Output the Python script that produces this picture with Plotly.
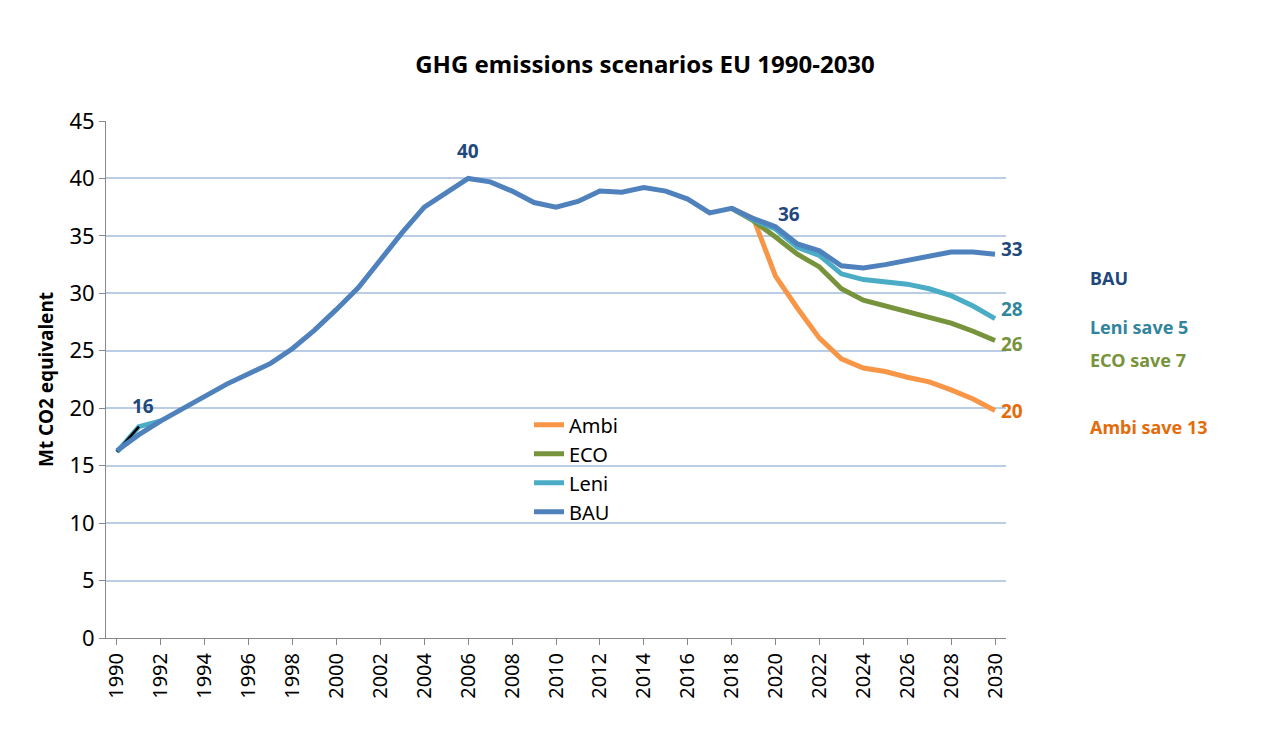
import plotly.graph_objects as go

years = list(range(1990, 2031))
bau = [16.3, 17.7, 18.9, 20.0, 21.1, 22.1, 23.0, 23.9, 25.2, 26.8, 28.6, 30.5, 32.9, 35.3, 37.5,
       38.8, 40.0, 39.7, 38.9, 37.9, 37.5, 38.0, 38.9, 38.8, 39.2, 38.9, 38.2, 37.0, 37.4, 36.5,
       35.8, 34.3, 33.7, 32.4, 32.2, 32.5, 32.9, 33.3, 33.6, 33.6, 33.4]
scen_years = list(range(2018, 2031))
ambi = [37.4, 36.5, 31.5, 28.7, 26.1, 24.3, 23.5, 23.2, 22.7, 22.3, 21.6, 20.8, 19.8]
eco = [37.4, 36.3, 34.9, 33.4, 32.3, 30.4, 29.4, 28.9, 28.5, 28.0, 27.4, 26.7, 25.9]
leni = [37.4, 36.4, 35.6, 34.0, 33.3, 31.7, 31.2, 31.0, 30.8, 30.4, 29.8, 28.9, 27.8]
leni_start_years = [1990, 1991, 1992]
leni_start = [16.2, 18.4, 18.9]

BAU_C, LENI_C, ECO_C, AMBI_C = "#4F81BD", "#4BACC6", "#77933C", "#F79646"

fig = go.Figure()
fig.add_trace(go.Scatter(x=scen_years, y=ambi, mode="lines", name="Ambi", line=dict(color=AMBI_C, width=5)))
fig.add_trace(go.Scatter(x=scen_years, y=eco, mode="lines", name="ECO", line=dict(color=ECO_C, width=5)))
fig.add_trace(go.Scatter(x=scen_years, y=leni, mode="lines", name="Leni", line=dict(color=LENI_C, width=5)))
fig.add_trace(go.Scatter(x=leni_start_years, y=leni_start, mode="lines", showlegend=False, line=dict(color=LENI_C, width=5)))
fig.add_trace(go.Scatter(x=[1990, 1991], y=[16.2, 18.4], mode="lines", showlegend=False, line=dict(color="black", width=2.5)))
fig.add_trace(go.Scatter(x=years, y=bau, mode="lines", name="BAU", line=dict(color=BAU_C, width=5)))

lab = dict(family="Noto Sans", size=19)
ann = [
    (1991.2, 20.2, "16", "#1F497D"), (2006, 42.4, "40", "#1F497D"), (2020.6, 36.9, "36", "#1F497D"),
]
for x, y, t, c in ann:
    fig.add_annotation(x=x, y=y, text="<b>%s</b>" % t, showarrow=False, font=dict(lab, color=c))
for y, t, c in [(33.9, "33", "#1F497D"), (28.6, "28", "#31859C"), (25.6, "26", ECO_C), (19.8, "20", "#E46C0A")]:
    fig.add_annotation(x=2030, y=y, text="<b>%s</b>" % t, showarrow=False, xanchor="left", xshift=4,
                       font=dict(lab, color=c))
for y, t, c in [(259, "BAU", "#1F497D"), (320, "Leni save 5", "#31859C"),
                (353, "ECO save 7", ECO_C), (418, "Ambi save 13", "#E46C0A")]:
    fig.add_annotation(xref="paper", yref="paper", x=(1088 - 105) / 901, y=(623 - y) / 503, text="<b>%s</b>" % t,
                       showarrow=False, xanchor="left", font=dict(family="Noto Sans", size=18, color=c))

fig.update_layout(
    width=1274, height=745, plot_bgcolor="white", paper_bgcolor="white",
    margin=dict(l=98, r=276, t=113, b=115),
    title=dict(text="<b>GHG emissions scenarios EU 1990-2030</b>", x=0.5, xref="container", y=0.935,
               xanchor="center", font=dict(family="Noto Sans", size=24, color="black")),
    font=dict(family="Noto Sans", size=18, color="black"),
    legend=dict(x=0.47, y=0.45, xanchor="left", yanchor="top", bgcolor="rgba(0,0,0,0)",
                font=dict(size=20), tracegroupgap=0),
    xaxis=dict(range=[1989.5, 2030.5], tickmode="linear", tick0=1990, dtick=2, tickangle=-90,
               showgrid=False, showline=True, linecolor="#888", ticks="outside", ticklen=6, tickcolor="#888",
               tickfont=dict(size=20)),
    yaxis=dict(range=[0, 45], dtick=5, showgrid=True, gridcolor="#B9CDE5", gridwidth=1.5,
               showline=True, linecolor="#888", ticks="outside", ticklen=6, tickcolor="#888",
               tickfont=dict(size=22),
               title=dict(text="<b>Mt CO2 equivalent</b>", font=dict(size=19), standoff=10)),
)
fig.write_html("out.html")
